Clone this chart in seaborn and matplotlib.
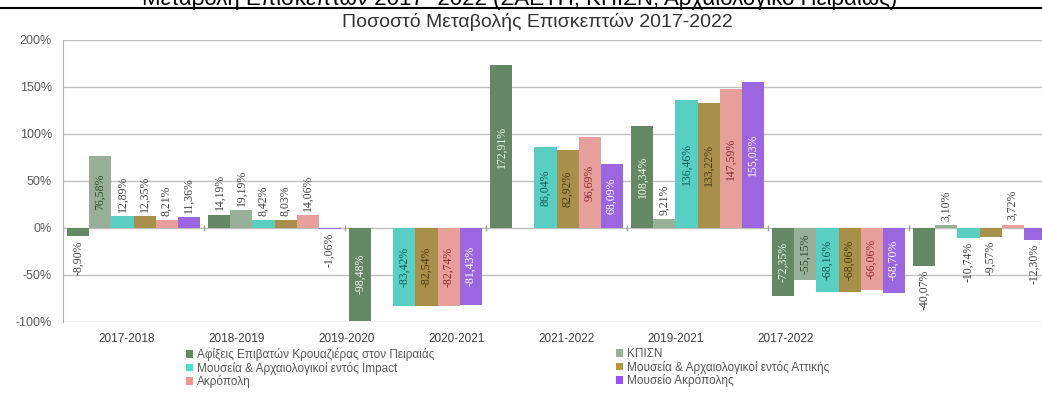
import numpy as np
import pandas as pd
import matplotlib.pyplot as plt
from matplotlib.lines import Line2D
from matplotlib.patches import Patch
import seaborn as sns

# Data (percent change)
periods = ['2017-2018', '2018-2019', '2019-2020', '2020-2021', '2021-2022', '2019-2021', '2017-2022']
series = ['Αφίξεις Επιβατών Κρουαζιέρας στον Πειραιάς', 'ΚΠΙΣΝ',
          'Μουσεία & Αρχαιολογικοί εντός Impact', 'Μουσεία & Αρχαιολογικοί εντός Αττικής',
          'Ακρόπολη', 'Μουσείο Ακρόπολης']
cruise = [-8.90, 14.19, -98.48, 172.91, 108.34, -72.35, -40.07]
kpisn = [76.58, 19.19, np.nan, np.nan, 9.21, -55.15, 3.10]
impact = [12.89, 8.42, -83.42, 86.04, 136.46, -68.16, -10.74]
attica = [12.35, 8.03, -82.54, 82.92, 133.22, -68.06, -9.57]
acropolis = [8.21, 14.06, -82.74, 96.69, 147.59, -66.06, 3.72]
museum = [11.36, -1.06, -81.43, 68.09, 155.03, -68.70, -12.30]
yticks = [-100, -50, 0, 50, 100, 150, 200]

colors = ['#5E8E5E', '#94B394', '#45E3D2', '#B8963A', '#F4948F', '#9B52F5']
inside_colors = ['#EEF5EE', '#2F4F2F', '#0E5C57', '#4A3A10', '#8B2C2C', '#FFFFFF']

sans = ['Liberation Sans', 'DejaVu Sans']
serif = ['Liberation Serif', 'DejaVu Serif']

# long format for seaborn
rows = []
for name, vals in zip(series, [cruise, kpisn, impact, attica, acropolis, museum]):
    for p, v in zip(periods, vals):
        rows.append({'period': p, 'series': name, 'value': v})
df = pd.DataFrame(rows).dropna()

fig = plt.figure(figsize=(10.42, 4.01), dpi=100)
W, H = 1042, 401
ax = fig.add_axes([63 / W, 1 - 322 / H, (1050 - 63) / W, (322 - 40) / H])

sns.barplot(data=df, x='period', y='value', hue='series', order=periods, hue_order=series,
            palette=colors, width=0.94, errorbar=None, linewidth=0, legend=False, ax=ax)

ax.set_xlim(-0.5, len(periods) - 0.5)
ax.set_ylim(-100, 200)
ax.set_yticks(yticks)
ax.set_yticklabels([f'{t}%' for t in yticks], fontsize=9, color='#595959', family=sans)
ax.tick_params(axis='y', length=0, pad=8)
ax.set_xticks([])
ax.set_xlabel('')
ax.set_ylabel('')
ax.yaxis.grid(True, color='#c0c0c0', lw=1)
ax.set_axisbelow(True)
for s in ['top', 'right', 'bottom']:
    ax.spines[s].set_visible(False)
ax.spines['left'].set_color('#b0b0b0')
ax.vlines(np.arange(-0.5, len(periods), 1), -3, 3, color='#a0a0a0', lw=1)

# data labels
for i, cont in enumerate(ax.containers):
    for bar in cont:
        h = bar.get_height()
        if np.isnan(h):
            continue
        x = bar.get_x() + bar.get_width() / 2
        txt = f'{h:.2f}%'.replace('.', ',')
        if abs(h) >= 45:
            ax.text(x, h / 2, txt, rotation=90, ha='center', va='center', fontsize=8.5,
                    color=inside_colors[i], family=serif)
        else:
            ax.annotate(txt, (x, h), xytext=(0, 3 if h >= 0 else -3), textcoords='offset points',
                        rotation=90, ha='center', va='bottom' if h >= 0 else 'top', fontsize=8.5,
                        color='#404040', family=serif)

# category labels row
for i, p in enumerate(periods):
    fig.text((127 + 109.8 * i) / W, 1 - 339 / H, p, ha='center', va='center', fontsize=8.5,
             color='#404040', family=sans)

# title and clipped document heading
fig.text(537 / W, 1 - 22 / H, 'Ποσοστό Μεταβολής Επισκεπτών 2017-2022', ha='center', va='center',
         fontsize=14, color='#333333', family=sans)
fig.text(520 / W, 1 - 5 / H, 'Μεταβολή Επισκεπτών 2017 -2022 (ΣΑΕΤΠ, ΚΠΙΣΝ, Αρχαιολογικό Πειραιώς)',
         ha='center', va='baseline', fontsize=16, color='black', family=sans)
fig.add_artist(Line2D([0, 1], [1 - 7.5 / H] * 2, color='black', lw=1.5, transform=fig.transFigure))

# legend in two columns
handles = [Patch(facecolor=c, edgecolor='none') for c in colors]
for col, xpx in enumerate([186, 616]):
    idx = [col, col + 2, col + 4]
    leg = fig.legend([handles[k] for k in idx], [series[k] for k in idx], loc='upper left',
                     bbox_to_anchor=(xpx / W, 1 - 348 / H), frameon=False,
                     handlelength=0.6, handleheight=0.6, handletextpad=0.3, labelspacing=0.05,
                     borderpad=0, borderaxespad=0, prop={'family': sans, 'size': 8.5})
    for t in leg.get_texts():
        t.set_color('#595959')

fig.savefig('out.png', dpi=100)
